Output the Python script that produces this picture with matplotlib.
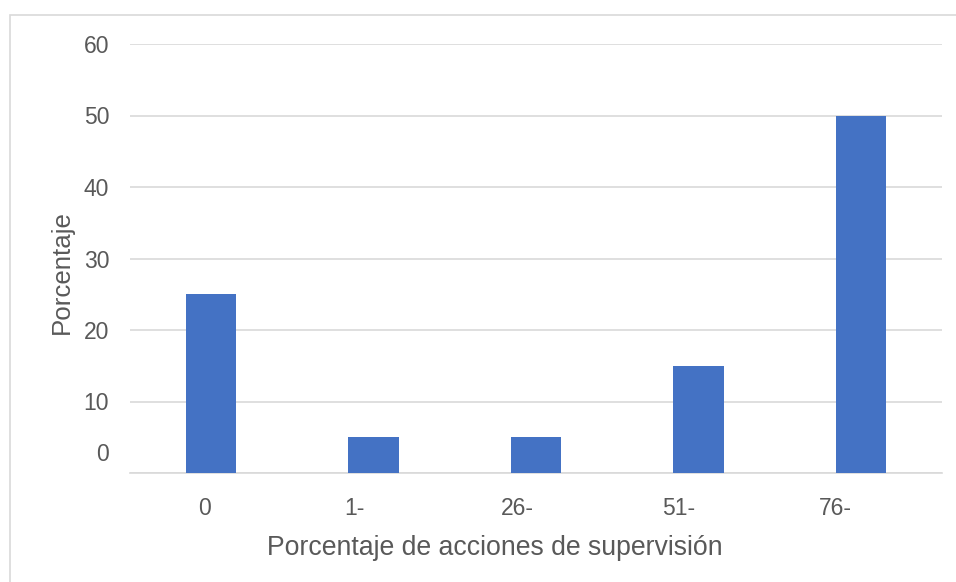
import matplotlib
matplotlib.use("Agg")
import matplotlib.pyplot as plt
import matplotlib.transforms as mtransforms
from matplotlib.patches import Rectangle

categorias = ['0', '1-', '26-', '51-', '76-']
porcentajes = [25, 5, 5, 15, 50]
yticks = [0, 10, 20, 30, 40, 50, 60]

# desplazamiento horizontal (px) de las etiquetas del eje x respecto al centro de la barra
desplaz_x = [-7, -19, -19, -20, -25]

plt.rcParams['font.family'] = ['Liberation Sans', 'DejaVu Sans']
txt = '#595959'
grid = '#D9D9D9'
W, H = 956, 582

fig = plt.figure(figsize=(W/100, H/100), dpi=100)
# marco del grafico (solo se ve el borde izquierdo y superior)
fig.patches.append(Rectangle((10/W, -0.05), 1.0, 1 - 15/H + 0.05, transform=fig.transFigure,
                             fill=False, edgecolor=grid, linewidth=1.2))

ax = fig.add_axes([130/W, (H-473)/H, 812/W, (473-44)/H])
x = range(len(categorias))
ax.bar(x, porcentajes, width=0.31, color='#4472C4', zorder=3)

ax.set_xlim(-0.5, 4.5)
ax.set_ylim(0, 60)
ax.set_yticks(yticks)
ax.set_xticks(list(x))
ax.set_xticklabels(categorias)
ax.grid(axis='y', color=grid, linewidth=1.2, zorder=0)
for s in ['top', 'right', 'left']:
    ax.spines[s].set_visible(False)
ax.spines['bottom'].set_color(grid)
ax.spines['bottom'].set_linewidth(1.2)
ax.tick_params(axis='both', length=0, labelsize=16.5, colors=txt)
ax.tick_params(axis='y', pad=15)
ax.tick_params(axis='x', pad=17)

# la etiqueta "0" del eje y aparece desplazada hacia arriba
lbl0 = ax.get_yticklabels()[0]
lbl0.set_transform(lbl0.get_transform() + mtransforms.ScaledTranslation(0, 21/100, fig.dpi_scale_trans))

for lbl, dx in zip(ax.get_xticklabels(), desplaz_x):
    lbl.set_transform(lbl.get_transform() + mtransforms.ScaledTranslation(dx/100, 0, fig.dpi_scale_trans))

ax.set_xlabel('Porcentaje de acciones de supervisión', fontsize=19.2, color=txt)
ax.set_ylabel('Porcentaje', fontsize=18.6, color=txt)
ax.xaxis.set_label_coords((495 - 130)/812, (473 - 548)/429)
ax.yaxis.set_label_coords((62 - 130)/812, (473 - 272)/429)
ax.xaxis.label.set_va('center')
ax.yaxis.label.set_va('center')

plt.savefig('out.png', dpi=100)
plt.close()
